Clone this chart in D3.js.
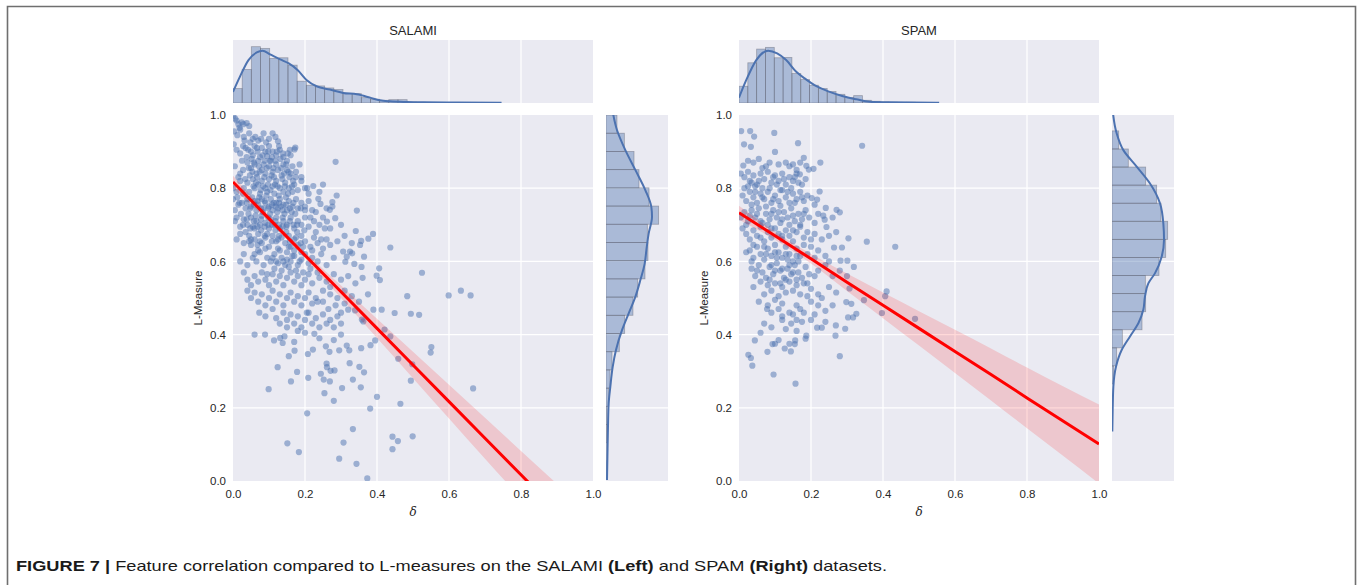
<!DOCTYPE html>
<html><head><meta charset="utf-8">
<script src="https://cdn.jsdelivr.net/npm/d3@7"></script>
<style>body{margin:0;background:#fff}svg{display:block}</style>
</head><body>
<svg id="c" width="1360" height="585"></svg>
<script>
// ---------------- DATA ----------------
const tickValues = [0, 0.2, 0.4, 0.6, 0.8, 1.0];
const panelTitles = ["SALAMI", "SPAM"];
const xLabel = "δ";
const yLabel = "L-Measure";

const salamiPoints = [
[0.001,0.998],[0.006,0.99],[0.010,0.985],[0.015,0.975],[0.024,0.98],[0.029,0.975],[0.038,0.978],[0.045,0.97],
[0.003,0.955],[0.012,0.945],[0.02,0.96],[0.03,0.94],[0.045,0.95],[0.055,0.935],[0.07,0.93],[0.1,0.935],[0.11,0.95],[0.118,0.94],[0.125,0.928],
[0.002,0.92],[0.01,0.905],[0.02,0.895],[0.035,0.91],[0.05,0.9],[0.055,0.89],[0.06,0.915],[0.068,0.9],[0.075,0.885],[0.08,0.91],[0.09,0.9],[0.095,0.888],[0.1,0.915],[0.11,0.9],[0.12,0.89],[0.13,0.905],[0.14,0.885],[0.15,0.875],[0.171,0.906],[0.173,0.911],[0.16,0.89],
[0.005,0.86],[0.02,0.84],[0.04,0.87],[0.05,0.855],[0.06,0.865],[0.065,0.84],[0.07,0.875],[0.08,0.85],[0.085,0.865],[0.09,0.84],[0.1,0.86],[0.105,0.875],[0.11,0.845],[0.12,0.865],[0.125,0.85],[0.135,0.835],[0.14,0.865],[0.15,0.85],[0.16,0.84],[0.165,0.86],[0.175,0.845],[0.185,0.865],[0.19,0.83],[0.285,0.872],
[0.0,0.8],[0.01,0.79],[0.02,0.82],[0.03,0.8],[0.04,0.815],[0.045,0.79],[0.055,0.825],[0.06,0.8],[0.07,0.81],[0.075,0.785],[0.08,0.82],[0.09,0.8],[0.095,0.79],[0.1,0.825],[0.11,0.805],[0.115,0.785],[0.12,0.82],[0.13,0.8],[0.14,0.79],[0.145,0.815],[0.155,0.8],[0.165,0.79],[0.17,0.81],[0.18,0.795],[0.19,0.82],[0.2,0.8],[0.206,0.8],[0.223,0.806],[0.21,0.785],[0.24,0.79],[0.25,0.81],
[0.0,0.77],[0.005,0.74],[0.015,0.755],[0.025,0.76],[0.035,0.745],[0.04,0.77],[0.05,0.75],[0.06,0.765],[0.065,0.74],[0.07,0.755],[0.08,0.77],[0.085,0.745],[0.09,0.76],[0.1,0.75],[0.105,0.77],[0.11,0.74],[0.12,0.76],[0.125,0.745],[0.13,0.77],[0.14,0.755],[0.15,0.74],[0.155,0.765],[0.165,0.75],[0.175,0.77],[0.18,0.745],[0.19,0.76],[0.2,0.75],[0.21,0.765],[0.22,0.74],[0.237,0.771],[0.243,0.757],[0.26,0.745],[0.276,0.762],[0.276,0.75],[0.269,0.741],[0.288,0.78],[0.23,0.735],
[0.005,0.71],[0.01,0.72],[0.02,0.695],[0.03,0.715],[0.04,0.7],[0.05,0.72],[0.06,0.69],[0.065,0.71],[0.075,0.7],[0.08,0.725],[0.09,0.705],[0.1,0.69],[0.105,0.715],[0.115,0.7],[0.12,0.72],[0.13,0.69],[0.14,0.71],[0.15,0.7],[0.16,0.72],[0.17,0.69],[0.18,0.71],[0.19,0.7],[0.2,0.72],[0.21,0.695],[0.225,0.71],[0.24,0.7],[0.25,0.72],[0.261,0.709],[0.284,0.718],[0.341,0.683],[0.344,0.739],[0.27,0.69],[0.3,0.7],
[0.01,0.66],[0.02,0.675],[0.03,0.65],[0.045,0.67],[0.05,0.645],[0.06,0.66],[0.07,0.675],[0.08,0.65],[0.09,0.665],[0.1,0.64],[0.11,0.67],[0.12,0.655],[0.125,0.635],[0.135,0.665],[0.145,0.65],[0.155,0.67],[0.16,0.64],[0.17,0.66],[0.18,0.645],[0.19,0.67],[0.2,0.655],[0.215,0.64],[0.225,0.665],[0.235,0.65],[0.25,0.635],[0.26,0.66],[0.27,0.645],[0.29,0.655],[0.356,0.656],[0.353,0.645],[0.376,0.662],[0.389,0.675],[0.437,0.638],[0.31,0.67],[0.33,0.65],
[0.02,0.6],[0.03,0.62],[0.04,0.59],[0.055,0.61],[0.065,0.6],[0.075,0.625],[0.085,0.59],[0.095,0.61],[0.105,0.6],[0.115,0.62],[0.125,0.595],[0.135,0.61],[0.145,0.59],[0.15,0.625],[0.16,0.6],[0.17,0.615],[0.18,0.59],[0.19,0.605],[0.2,0.62],[0.21,0.595],[0.22,0.61],[0.235,0.6],[0.245,0.62],[0.26,0.59],[0.28,0.61],[0.306,0.627],[0.325,0.627],[0.331,0.622],[0.316,0.613],[0.312,0.599],[0.337,0.593],[0.357,0.585],[0.364,0.613],[0.406,0.581],
[0.03,0.57],[0.04,0.55],[0.05,0.535],[0.06,0.56],[0.07,0.545],[0.08,0.57],[0.09,0.55],[0.1,0.535],[0.11,0.565],[0.12,0.545],[0.13,0.56],[0.14,0.535],[0.15,0.555],[0.16,0.57],[0.17,0.545],[0.18,0.56],[0.19,0.535],[0.2,0.55],[0.21,0.565],[0.22,0.54],[0.24,0.555],[0.26,0.545],[0.28,0.565],[0.3,0.55],[0.32,0.56],[0.34,0.54],[0.399,0.561],[0.408,0.549],[0.525,0.569],[0.36,0.555],
[0.04,0.52],[0.05,0.5],[0.06,0.515],[0.07,0.49],[0.08,0.51],[0.09,0.48],[0.1,0.5],[0.11,0.52],[0.12,0.49],[0.13,0.51],[0.14,0.48],[0.15,0.5],[0.16,0.515],[0.17,0.49],[0.18,0.505],[0.19,0.48],[0.2,0.5],[0.21,0.515],[0.22,0.485],[0.23,0.5],[0.25,0.49],[0.27,0.51],[0.29,0.5],[0.31,0.485],[0.33,0.505],[0.375,0.51],[0.484,0.505],[0.599,0.507],[0.633,0.52],[0.66,0.507],[0.39,0.468],[0.413,0.468],[0.35,0.49],
[0.073,0.46],[0.09,0.45],[0.11,0.47],[0.12,0.445],[0.13,0.43],[0.14,0.46],[0.15,0.44],[0.16,0.455],[0.17,0.43],[0.18,0.45],[0.19,0.42],[0.2,0.44],[0.21,0.46],[0.22,0.43],[0.23,0.445],[0.24,0.42],[0.25,0.455],[0.26,0.43],[0.27,0.44],[0.28,0.42],[0.29,0.45],[0.3,0.43],[0.32,0.468],[0.339,0.466],[0.358,0.441],[0.362,0.436],[0.449,0.459],[0.494,0.457],[0.517,0.454],[0.421,0.414],
[0.060,0.400],[0.089,0.400],[0.099,0.251],[0.124,0.311],[0.114,0.384],[0.131,0.391],[0.138,0.377],[0.143,0.395],[0.155,0.341],[0.161,0.272],[0.171,0.356],[0.178,0.298],[0.151,0.103],[0.183,0.079],[0.206,0.185],[0.209,0.282],[0.208,0.347],[0.222,0.359],[0.226,0.402],[0.244,0.293],[0.254,0.240],[0.252,0.277],[0.258,0.368],[0.260,0.321],[0.261,0.311],[0.269,0.272],[0.268,0.353],[0.271,0.301],[0.282,0.302],[0.280,0.219],[0.295,0.061],[0.295,0.357],[0.303,0.254],[0.307,0.105],[0.316,0.370],[0.323,0.357],[0.324,0.322],[0.333,0.277],[0.333,0.142],[0.343,0.047],[0.351,0.312],[0.355,0.256],[0.356,0.363],[0.364,0.297],[0.373,0.007],[0.381,0.198],[0.382,0.371],[0.395,0.384],[0.400,0.230],[0.437,0.395],[0.459,0.334],[0.465,0.211],[0.443,0.121],[0.443,0.087],[0.458,0.109],[0.499,0.122],[0.494,0.274],[0.498,0.319],[0.549,0.351],[0.551,0.366],[0.667,0.253],[0.18,0.41],[0.2,0.405],[0.24,0.39],[0.28,0.385],[0.3,0.4],[0.15,0.42],[0.17,0.38],
[0.032,0.93],[0.042,0.905],[0.052,0.88],[0.062,0.94],[0.072,0.86],[0.082,0.89],[0.092,0.925],[0.102,0.875],[0.112,0.855],[0.122,0.9],[0.132,0.88],[0.142,0.84],[0.152,0.895],[0.047,0.835],[0.057,0.805],[0.067,0.83],[0.077,0.795],[0.087,0.83],[0.097,0.81],[0.107,0.835],[0.117,0.81],[0.127,0.78],[0.137,0.825],[0.147,0.775],[0.157,0.83],[0.167,0.82],[0.043,0.73],[0.053,0.775],[0.063,0.725],[0.073,0.775],[0.083,0.735],[0.093,0.78],[0.103,0.73],[0.113,0.76],[0.123,0.735],[0.133,0.75],[0.143,0.73],[0.153,0.785],[0.163,0.735],[0.173,0.73],[0.035,0.68],[0.045,0.655],[0.055,0.695],[0.068,0.645],[0.078,0.685],[0.088,0.67],[0.098,0.7],[0.108,0.655],[0.118,0.685],[0.128,0.67],[0.138,0.695],[0.148,0.68],[0.158,0.655],[0.168,0.7],[0.178,0.68],[0.188,0.65],[0.198,0.685],[0.06,0.62],[0.07,0.63],[0.09,0.635],[0.11,0.61],[0.13,0.63],[0.15,0.605],[0.17,0.63],[0.19,0.625],[0.095,0.565],[0.115,0.58],[0.135,0.575],[0.155,0.585],[0.175,0.575],[0.195,0.57],[0.215,0.58],[0.085,0.95],[0.025,0.875],[0.015,0.83],[0.012,0.775],[0.022,0.73],[0.028,0.85],[0.2,0.74],[0.215,0.72],[0.23,0.68],[0.245,0.66],[0.255,0.69],[0.22,0.63],[0.235,0.57],[0.25,0.52],[0.27,0.53],[0.265,0.47],[0.285,0.48],[0.3,0.46],[0.31,0.52],[0.235,0.49],[0.205,0.46],
[0.018,0.965],[0.028,0.915],[0.038,0.885],[0.048,0.925],[0.058,0.87],[0.066,0.91],[0.078,0.935],[0.088,0.875],[0.098,0.9],[0.108,0.885],[0.118,0.875],[0.128,0.915],[0.138,0.895],[0.148,0.865],[0.158,0.905],[0.034,0.825],[0.044,0.855],[0.054,0.845],[0.064,0.815],[0.074,0.845],[0.084,0.805],[0.094,0.855],[0.104,0.795],[0.114,0.83],[0.124,0.805],[0.134,0.855],[0.144,0.805],[0.154,0.845],[0.164,0.805],[0.174,0.83],[0.018,0.76],[0.028,0.785],[0.038,0.76],[0.048,0.745],[0.058,0.755],[0.068,0.765],[0.078,0.745],[0.088,0.765],[0.098,0.745],[0.108,0.755],[0.118,0.75],[0.128,0.76],[0.138,0.74],[0.148,0.755],[0.158,0.745],[0.168,0.76],[0.188,0.745],[0.028,0.7],[0.038,0.715],[0.048,0.69],[0.058,0.71],[0.068,0.695],[0.078,0.715],[0.088,0.695],[0.098,0.72],[0.108,0.7],[0.118,0.71],[0.128,0.7],[0.138,0.72],[0.148,0.695],[0.158,0.71],[0.178,0.7],[0.05,0.66],[0.075,0.655],[0.095,0.675],[0.125,0.66],[0.155,0.64],[0.175,0.665],[0.195,0.64],[0.14,0.6],[0.165,0.615],[0.185,0.6],[0.12,0.6]
];

const spamPoints = [
[0.006,0.956],[0.031,0.956],[0.042,0.941],[0.014,0.920],[0.033,0.913],[0.098,0.951],[0.164,0.923],[0.342,0.916],
[0.1,0.899],[0.18,0.883],[0.226,0.87],[0.207,0.853],[0.187,0.861],[0.194,0.851],[0.012,0.862],[0.025,0.875],[0.04,0.87],[0.055,0.88],[0.075,0.86],[0.085,0.87],[0.11,0.865],[0.13,0.87],[0.14,0.86],[0.15,0.865],[0.16,0.85],[0.17,0.87],[0.065,0.855],
[0.005,0.84],[0.015,0.83],[0.025,0.845],[0.03,0.82],[0.04,0.835],[0.05,0.81],[0.06,0.84],[0.07,0.825],[0.08,0.845],[0.09,0.815],[0.1,0.835],[0.11,0.82],[0.12,0.84],[0.13,0.81],[0.14,0.83],[0.15,0.82],[0.16,0.84],[0.169,0.838],[0.175,0.81],[0.185,0.825],[0.045,0.805],
[0.01,0.78],[0.02,0.765],[0.03,0.79],[0.04,0.775],[0.05,0.76],[0.06,0.785],[0.07,0.77],[0.08,0.79],[0.09,0.76],[0.1,0.78],[0.11,0.765],[0.12,0.795],[0.13,0.775],[0.14,0.76],[0.15,0.785],[0.16,0.77],[0.17,0.79],[0.18,0.765],[0.19,0.78],[0.224,0.791],[0.202,0.773],[0.217,0.769],[0.21,0.755],[0.035,0.755],[0.075,0.75],[0.115,0.752],
[0.005,0.72],[0.015,0.735],[0.025,0.71],[0.035,0.74],[0.045,0.72],[0.055,0.745],[0.065,0.705],[0.075,0.73],[0.085,0.715],[0.095,0.74],[0.105,0.72],[0.115,0.705],[0.125,0.735],[0.135,0.72],[0.145,0.745],[0.155,0.71],[0.165,0.73],[0.175,0.715],[0.185,0.74],[0.195,0.72],[0.241,0.746],[0.234,0.725],[0.238,0.714],[0.271,0.741],[0.28,0.734],[0.21,0.705],[0.22,0.73],[0.26,0.72],
[0.01,0.69],[0.02,0.675],[0.03,0.66],[0.04,0.685],[0.05,0.67],[0.06,0.695],[0.07,0.655],[0.08,0.68],[0.09,0.665],[0.1,0.69],[0.11,0.675],[0.12,0.66],[0.13,0.685],[0.14,0.67],[0.15,0.655],[0.16,0.68],[0.17,0.695],[0.18,0.665],[0.19,0.68],[0.2,0.66],[0.21,0.675],[0.243,0.694],[0.23,0.66],[0.25,0.67],[0.304,0.663],[0.355,0.654],[0.27,0.68],
[0.02,0.625],[0.03,0.63],[0.04,0.61],[0.05,0.64],[0.06,0.62],[0.07,0.605],[0.08,0.635],[0.09,0.615],[0.1,0.645],[0.11,0.625],[0.12,0.61],[0.13,0.64],[0.14,0.62],[0.15,0.6],[0.16,0.635],[0.17,0.615],[0.18,0.645],[0.19,0.62],[0.2,0.64],[0.21,0.61],[0.22,0.63],[0.264,0.638],[0.286,0.638],[0.434,0.640],[0.282,0.602],[0.301,0.602],[0.24,0.615],[0.25,0.6],
[0.035,0.58],[0.045,0.56],[0.055,0.59],[0.065,0.57],[0.075,0.555],[0.085,0.585],[0.095,0.565],[0.105,0.595],[0.115,0.575],[0.125,0.555],[0.135,0.58],[0.145,0.565],[0.155,0.59],[0.165,0.57],[0.175,0.555],[0.185,0.585],[0.195,0.565],[0.22,0.575],[0.24,0.59],[0.26,0.56],[0.319,0.585],[0.28,0.575],[0.3,0.56],
[0.04,0.53],[0.06,0.545],[0.07,0.51],[0.08,0.535],[0.09,0.52],[0.1,0.54],[0.11,0.505],[0.12,0.53],[0.13,0.515],[0.14,0.545],[0.15,0.52],[0.16,0.535],[0.17,0.51],[0.18,0.54],[0.2,0.525],[0.22,0.51],[0.25,0.53],[0.307,0.526],[0.41,0.518],[0.406,0.505],[0.27,0.515],
[0.055,0.49],[0.078,0.47],[0.08,0.48],[0.09,0.46],[0.1,0.495],[0.11,0.47],[0.12,0.485],[0.14,0.46],[0.16,0.48],[0.18,0.46],[0.2,0.49],[0.22,0.48],[0.24,0.465],[0.26,0.48],[0.298,0.489],[0.312,0.484],[0.347,0.494],[0.326,0.457],[0.317,0.447],[0.303,0.447],[0.397,0.459],[0.489,0.443],[0.15,0.455],[0.17,0.47],
[0.06,0.405],[0.07,0.43],[0.09,0.42],[0.12,0.44],[0.13,0.415],[0.145,0.43],[0.16,0.41],[0.175,0.435],[0.187,0.397],[0.185,0.389],[0.217,0.419],[0.230,0.419],[0.269,0.425],[0.295,0.416],[0.268,0.397],[0.2,0.44],[0.24,0.435],
[0.026,0.345],[0.033,0.336],[0.037,0.315],[0.096,0.291],[0.157,0.266],[0.079,0.353],[0.100,0.375],[0.127,0.362],[0.144,0.354],[0.156,0.384],[0.155,0.374],[0.280,0.341],[0.044,0.384],[0.093,0.374],[0.11,0.385],[0.14,0.375],
[0.025,0.805],[0.055,0.82],[0.085,0.8],[0.105,0.81],[0.125,0.825],[0.145,0.8],[0.165,0.815],[0.045,0.79],[0.065,0.775],[0.095,0.77],[0.135,0.79],[0.155,0.76],[0.175,0.775],[0.02,0.7],[0.05,0.73],[0.08,0.7],[0.11,0.735],[0.14,0.7],[0.17,0.7],[0.06,0.665],[0.09,0.69],[0.12,0.67],[0.15,0.685],[0.035,0.6],[0.075,0.62],[0.105,0.61],[0.135,0.605],[0.165,0.6],[0.1,0.575],[0.14,0.59],[0.13,0.55],[0.16,0.55],[0.19,0.54],[0.21,0.56],[0.085,0.55],[0.115,0.54],[0.19,0.505],[0.23,0.5],[0.12,0.45],[0.16,0.44],[0.21,0.455],
[0.015,0.8],[0.035,0.815],[0.065,0.8],[0.095,0.83],[0.115,0.795],[0.155,0.83],[0.03,0.725],[0.06,0.71],[0.09,0.73],[0.12,0.715],[0.15,0.725],[0.18,0.73],[0.04,0.645],[0.07,0.64],[0.1,0.625],[0.13,0.62],[0.16,0.615],[0.05,0.575],[0.09,0.59],[0.12,0.58],[0.15,0.57]
];

// Marginal histograms (density, arbitrary units; panel spans 0..10)
const salamiTopBinStart = 0, salamiTopBinWidth = 0.02546;
const salamiTopHist = [2.29,5.32,8.94,8.67,7.07,7.18,6.01,3.46,2.82,2.71,2.39,2.13,1.49,1.49,0.85,0.59,0.43,0.53,0.53,0.16,0.11,0.05,0.05,0,0.05,0.05];
const salamiSideBinStart = 0.005, salamiSideBinWidth = 0.04975;
const salamiSideHist = [0.16,0.05,0.11,0.16,0.43,0.65,0.97,2.15,3.01,4.35,5.11,6.29,6.77,6.67,8.49,6.94,5.32,4.52,2.96,1.77];
const spamTopBinStart = 0, spamTopBinWidth = 0.0245;
const spamTopHist = [2.66,6.38,8.56,8.83,7.18,7.23,4.68,3.72,2.82,2.29,1.81,1.38,0.85,1.17,0.43,0.27,0.16,0.11,0.05,0.11];
const spamSideBinStart = 0.265, spamSideBinWidth = 0.0494;
const spamSideHist = [0.27,0.75,1.67,4.84,5.43,5.38,7.58,8.66,8.98,7.9,7.2,5.43,2.63,1.08];

// KDE curves: [position, density]
const salamiTopKde = [[0,1.76],[0.019,4.15],[0.043,6.81],[0.066,8.03],[0.082,8.3],[0.103,7.71],[0.131,6.91],[0.155,6.28],[0.18,5.21],[0.205,3.62],[0.232,2.66],[0.269,2.13],[0.306,1.6],[0.344,1.38],[0.381,0.85],[0.408,0.43],[0.436,0.27],[0.482,0.16],[0.529,0.11],[0.621,0.08],[0.746,0.05]];
const salamiSideKde = [[1.02,0.97],[0.959,1.77],[0.904,3.12],[0.85,4.73],[0.795,6.34],[0.749,7.31],[0.722,7.42],[0.676,6.88],[0.631,6.51],[0.594,6.24],[0.549,5.54],[0.503,4.73],[0.458,3.66],[0.412,2.58],[0.358,1.61],[0.312,1.08],[0.258,0.7],[0.212,0.43],[0.148,0.32],[0.057,0.22],[0.003,0.16]];
const spamTopKde = [[0,0.85],[0.02,3.62],[0.048,6.81],[0.081,8.3],[0.106,7.87],[0.131,6.81],[0.159,4.95],[0.187,3.72],[0.215,2.66],[0.252,1.76],[0.289,1.06],[0.326,0.59],[0.363,0.21],[0.419,0.11],[0.556,0.05]];
const spamSideKde = [[1.02,0.1],[0.997,0.22],[0.95,0.75],[0.904,1.83],[0.859,3.98],[0.813,6.13],[0.759,7.74],[0.704,8.28],[0.659,8.39],[0.613,8.01],[0.568,6.94],[0.54,5.86],[0.504,5.32],[0.468,5.05],[0.431,4.25],[0.395,2.9],[0.358,1.56],[0.313,0.65],[0.258,0.22],[0.194,0.11],[0.135,0.05]];

// Regression fit and 95% band
const regX = [0,0.1,0.2,0.3,0.4,0.5,0.6,0.7,0.8,0.9,1.0];
const salamiRegY  = [0.817,0.717,0.617,0.517,0.417,0.317,0.217,0.117,0.017,-0.083,-0.183];
const salamiRegLo = [0.800,0.708,0.608,0.500,0.391,0.281,0.171,0.061,-0.048,-0.158,-0.268];
const salamiRegHi = [0.834,0.726,0.626,0.534,0.443,0.353,0.263,0.173,0.082,-0.008,-0.098];
const spamRegY  = [0.733,0.670,0.607,0.543,0.480,0.417,0.354,0.291,0.227,0.164,0.101];
const spamRegLo = [0.714,0.659,0.594,0.519,0.445,0.370,0.295,0.220,0.144,0.069,-0.007];
const spamRegHi = [0.752,0.681,0.620,0.567,0.515,0.464,0.413,0.362,0.310,0.259,0.209];

// ---------------- DRAW ----------------
const svg = d3.select("#c");
const BG = "#eaeaf2", BLUE = "#4c72b0", TXT = "#262626";
const FONT = "'Liberation Sans', Arial, sans-serif";

// outer frame
svg.append("path").attr("d","M7.5,585V6.5H1355.5V585").attr("fill","none").attr("stroke","#6f6f6f").attr("stroke-width",1.6);

function joint(id, L, title, pts, topHist, topStart, topW, sideHist, sideStart, sideW, topKde, sideKde, regY, regLo, regHi) {
  const g = svg.append("g");
  const x = d3.scaleLinear().domain([0,1]).range([L.x0, L.x1]);
  const y = d3.scaleLinear().domain([0,1]).range([L.y1, L.y0]);
  const ty = d3.scaleLinear().domain([0,10]).range([L.ty1, L.ty0]);
  const sx = d3.scaleLinear().domain([0,10]).range([L.sx0, L.sx1]);
  const defs = svg.append("defs");
  const clip = (name, x0, y0, w, h) => defs.append("clipPath").attr("id", id+name).append("rect").attr("x",x0).attr("y",y0).attr("width",w).attr("height",h);
  clip("m", L.x0, L.y0, L.x1-L.x0, L.y1-L.y0);
  clip("t", L.x0, L.ty0, L.x1-L.x0, L.ty1-L.ty0);
  clip("s", L.sx0, L.y0, L.sx1-L.sx0, L.y1-L.y0);

  // backgrounds
  g.append("rect").attr("x",L.x0).attr("y",L.y0).attr("width",L.x1-L.x0).attr("height",L.y1-L.y0).attr("fill",BG);
  g.append("rect").attr("x",L.x0).attr("y",L.ty0).attr("width",L.x1-L.x0).attr("height",L.ty1-L.ty0).attr("fill",BG);
  g.append("rect").attr("x",L.sx0).attr("y",L.y0).attr("width",L.sx1-L.sx0).attr("height",L.y1-L.y0).attr("fill",BG);

  const inner = tickValues.filter(t => t > 0 && t < 1);
  const grid = g.append("g").attr("stroke","#fff").attr("stroke-width",1.2);
  inner.forEach(t => {
    grid.append("line").attr("x1",x(t)).attr("x2",x(t)).attr("y1",L.y0).attr("y2",L.y1);
    grid.append("line").attr("y1",y(t)).attr("y2",y(t)).attr("x1",L.x0).attr("x2",L.x1);
    grid.append("line").attr("x1",x(t)).attr("x2",x(t)).attr("y1",L.ty0).attr("y2",L.ty1);
    grid.append("line").attr("y1",y(t)).attr("y2",y(t)).attr("x1",L.sx0).attr("x2",L.sx1);
  });

  // top histogram
  g.append("g").attr("clip-path",`url(#${id}t)`).selectAll("rect").data(topHist).join("rect")
    .attr("x",(d,i)=>x(topStart+i*topW)).attr("width",(d,i)=>x(topStart+(i+1)*topW)-x(topStart+i*topW))
    .attr("y",d=>ty(d)).attr("height",d=>ty(0)-ty(d))
    .attr("fill",BLUE).attr("fill-opacity",0.4).attr("stroke","#5a5a66").attr("stroke-opacity",0.45).attr("stroke-width",0.8);
  g.append("path").attr("clip-path",`url(#${id}t)`).datum(topKde)
    .attr("d", d3.line().x(d=>x(d[0])).y(d=>ty(d[1])).curve(d3.curveMonotoneX))
    .attr("fill","none").attr("stroke",BLUE).attr("stroke-width",2);

  // side histogram
  g.append("g").attr("clip-path",`url(#${id}s)`).selectAll("rect").data(sideHist).join("rect")
    .attr("y",(d,i)=>y(sideStart+(i+1)*sideW)).attr("height",(d,i)=>y(sideStart+i*sideW)-y(sideStart+(i+1)*sideW))
    .attr("x",sx(0)).attr("width",d=>sx(d)-sx(0))
    .attr("fill",BLUE).attr("fill-opacity",0.4).attr("stroke","#5a5a66").attr("stroke-opacity",0.45).attr("stroke-width",0.8);
  g.append("path").attr("clip-path",`url(#${id}s)`).datum(sideKde)
    .attr("d", d3.line().x(d=>sx(d[1])).y(d=>y(d[0])).curve(d3.curveMonotoneY))
    .attr("fill","none").attr("stroke",BLUE).attr("stroke-width",2);

  // scatter
  const mg = g.append("g").attr("clip-path",`url(#${id}m)`);
  mg.append("g").selectAll("circle").data(pts).join("circle")
    .attr("cx",d=>x(d[0])).attr("cy",d=>y(d[1])).attr("r",3.1)
    .attr("fill",BLUE).attr("fill-opacity",0.5);
  // band and regression line
  const band = regX.map((v,i)=>[v, regLo[i], regHi[i]]);
  mg.append("path").datum(band)
    .attr("d", d3.area().x(d=>x(d[0])).y0(d=>y(d[1])).y1(d=>y(d[2])).curve(d3.curveMonotoneX))
    .attr("fill","red").attr("fill-opacity",0.15);
  mg.append("path").datum(regX.map((v,i)=>[v, regY[i]]))
    .attr("d", d3.line().x(d=>x(d[0])).y(d=>y(d[1])))
    .attr("fill","none").attr("stroke","red").attr("stroke-width",3);

  // axes
  const fmt = d3.format(".1f");
  const ax = g.append("g").attr("transform",`translate(0,${L.y1})`)
    .call(d3.axisBottom(x).tickValues(tickValues).tickFormat(fmt).tickSize(0).tickPadding(9));
  const ay = g.append("g").attr("transform",`translate(${L.x0},0)`)
    .call(d3.axisLeft(y).tickValues(tickValues).tickFormat(fmt).tickSize(0).tickPadding(7));
  [ax, ay].forEach(a => {
    a.select(".domain").remove();
    a.selectAll("text").attr("font-family",FONT).attr("font-size",11.5).attr("fill",TXT);
  });

  // labels
  g.append("text").attr("x",(L.x0+L.x1)/2).attr("y",35).attr("text-anchor","middle")
    .attr("font-family",FONT).attr("font-size",13).attr("fill",TXT).text(title);
  g.append("text").attr("x",(L.x0+L.x1)/2).attr("y",516).attr("text-anchor","middle")
    .attr("font-family","'DejaVu Serif', serif").attr("font-style","italic").attr("font-size",12).attr("fill",TXT).text(xLabel);
  g.append("text").attr("transform",`translate(${L.x0-31},${(L.y0+L.y1)/2}) rotate(-90)`).attr("text-anchor","middle")
    .attr("font-family",FONT).attr("font-size",11.5).attr("fill",TXT).text(yLabel);
}

joint("a", {x0:233,x1:593,y0:115,y1:481,ty0:40,ty1:103,sx0:606,sx1:668}, panelTitles[0], salamiPoints,
  salamiTopHist, salamiTopBinStart, salamiTopBinWidth, salamiSideHist, salamiSideBinStart, salamiSideBinWidth,
  salamiTopKde, salamiSideKde, salamiRegY, salamiRegLo, salamiRegHi);
joint("b", {x0:739,x1:1099,y0:115,y1:481,ty0:40,ty1:103,sx0:1112,sx1:1174}, panelTitles[1], spamPoints,
  spamTopHist, spamTopBinStart, spamTopBinWidth, spamSideHist, spamSideBinStart, spamSideBinWidth,
  spamTopKde, spamSideKde, spamRegY, spamRegLo, spamRegHi);

// caption
const cap = svg.append("text").attr("x",16).attr("y",571).attr("font-family",FONT).attr("font-size",15).attr("fill","#1a1a1a")
  .attr("textLength",871).attr("lengthAdjust","spacingAndGlyphs");
cap.append("tspan").attr("font-weight","bold").text("FIGURE 7 |");
cap.append("tspan").text(" Feature correlation compared to L-measures on the SALAMI ");
cap.append("tspan").attr("font-weight","bold").text("(Left)");
cap.append("tspan").text(" and SPAM ");
cap.append("tspan").attr("font-weight","bold").text("(Right)");
cap.append("tspan").text(" datasets.");
</script>
</body></html>
